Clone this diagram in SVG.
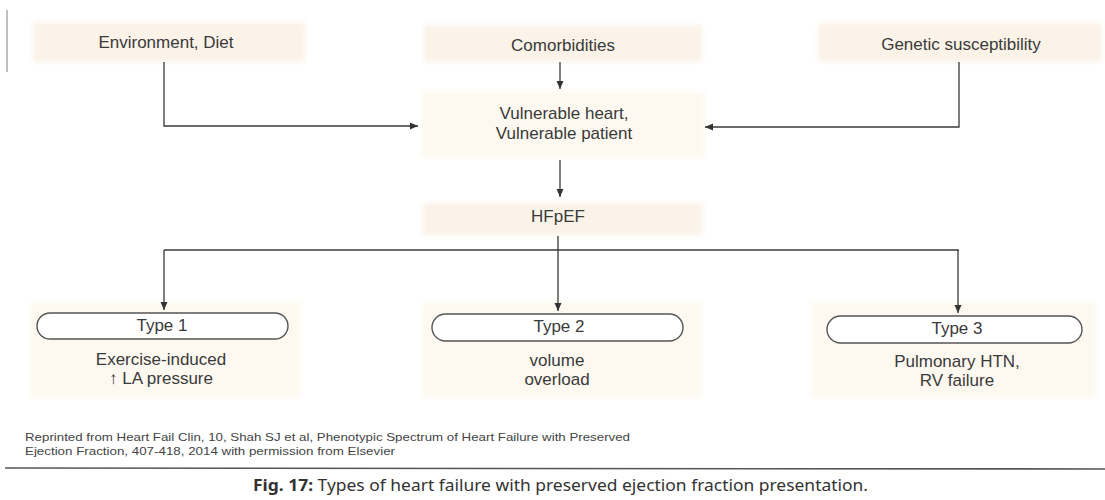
<svg xmlns="http://www.w3.org/2000/svg" width="1105" height="500" viewBox="0 0 1105 500">
<defs>
<marker id="ah" markerWidth="10" markerHeight="10" refX="9" refY="5" orient="auto" markerUnits="userSpaceOnUse">
<path d="M1,1.5 L9,5 L1,8.5 Z" fill="#333"/>
</marker>
<filter id="soft" x="-5%" y="-20%" width="110%" height="140%"><feGaussianBlur stdDeviation="2"/></filter>
</defs>
<style>
.bg{fill:#fbf3e8;filter:url(#soft)}
.bg2{fill:#fdf9f1;filter:url(#soft)}
.t{font-family:"Liberation Sans",Arial,sans-serif;font-size:17px;fill:#3a3a3a;text-anchor:middle}
.pill{fill:#ffffff;stroke:#555;stroke-width:1.4}
.c{fill:none;stroke:#3a3a3a;stroke-width:1.3}
.ft{font-family:"Liberation Sans",Arial,sans-serif;font-size:11.5px;fill:#444}
.cap{font-family:"Noto Sans","Open Sans",sans-serif;font-size:15.5px;fill:#333}
</style>
<rect width="1105" height="500" fill="#ffffff"/>
<line x1="7" y1="10" x2="7" y2="72" stroke="#aaa" stroke-width="1.5"/>

<g id="env">
<rect class="bg" x="33" y="22" width="272" height="40"/>
<text class="t" x="166" y="48">Environment, Diet</text>
</g>
<g id="comorbidities">
<rect class="bg" x="424" y="25" width="278" height="37"/>
<text class="t" x="563" y="51">Comorbidities</text>
</g>
<g id="genetic">
<rect class="bg" x="818" y="23" width="284" height="39"/>
<text class="t" x="961" y="50">Genetic susceptibility</text>
</g>
<g id="vulnerable">
<rect class="bg2" x="422" y="92" width="283" height="65"/>
<text class="t" x="564" y="119">Vulnerable heart,</text>
<text class="t" x="564" y="139">Vulnerable patient</text>
</g>
<g id="hfpef">
<rect class="bg" x="423" y="203" width="280" height="32"/>
<text class="t" x="558" y="222">HFpEF</text>
</g>

<g id="type1">
<rect class="bg2" x="30" y="302" width="270" height="96"/>
<rect class="pill" x="37" y="313" width="251" height="26" rx="13"/>
<text class="t" x="162" y="331">Type 1</text>
<text class="t" x="161" y="365">Exercise-induced</text>
<text class="t" x="161" y="384">↑ LA pressure</text>
</g>
<g id="type2">
<rect class="bg2" x="422" y="302" width="280" height="96"/>
<rect class="pill" x="432" y="314" width="251" height="27" rx="13.5"/>
<text class="t" x="559" y="332">Type 2</text>
<text class="t" x="557" y="366">volume</text>
<text class="t" x="557" y="385">overload</text>
</g>
<g id="type3">
<rect class="bg2" x="812" y="302" width="284" height="96"/>
<rect class="pill" x="827" y="316" width="255" height="27" rx="13.5"/>
<text class="t" x="957" y="334">Type 3</text>
<text class="t" x="957" y="367">Pulmonary HTN,</text>
<text class="t" x="957" y="386">RV failure</text>
</g>

<g id="connectors">
<path class="c" d="M164,62 V126 H418" marker-end="url(#ah)"/>
<path class="c" d="M959,62 V127 H705" marker-end="url(#ah)"/>
<path class="c" d="M560,62 V89" marker-end="url(#ah)"/>
<path class="c" d="M560,160 V197" marker-end="url(#ah)"/>
<path class="c" d="M558,236 V250"/>
<path class="c" d="M164,250 H959"/>
<path class="c" d="M164,250 V310" marker-end="url(#ah)"/>
<path class="c" d="M558,250 V311" marker-end="url(#ah)"/>
<path class="c" d="M958,250 V313" marker-end="url(#ah)"/>
</g>

<g id="footer">
<text class="ft" x="25" y="441" textLength="605" lengthAdjust="spacingAndGlyphs">Reprinted from Heart Fail Clin, 10, Shah SJ et al, Phenotypic Spectrum of Heart Failure with Preserved</text>
<text class="ft" x="25" y="455" textLength="370" lengthAdjust="spacingAndGlyphs">Ejection Fraction, 407-418, 2014 with permission from Elsevier</text>
<line x1="5" y1="468" x2="1105" y2="469" stroke="#555" stroke-width="1.6"/>
<text class="cap" x="253" y="491" textLength="615" lengthAdjust="spacingAndGlyphs"><tspan font-weight="bold">Fig. 17:</tspan> Types of heart failure with preserved ejection fraction presentation.</text>
</g>
</svg>
